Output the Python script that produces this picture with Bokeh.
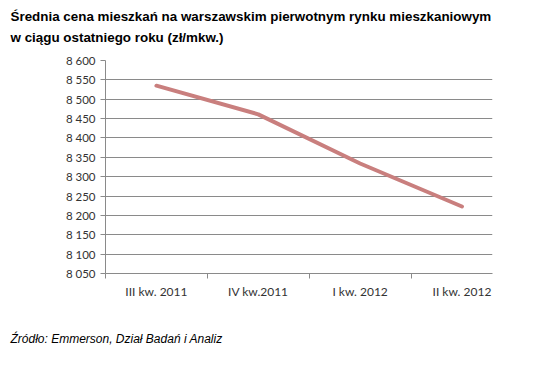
from bokeh.plotting import figure
from bokeh.models import FixedTicker, Title, ColumnDataSource
from bokeh.embed import file_html
from bokeh.resources import INLINE

categories = ["III kw. 2011", "IV kw.2011", "I kw. 2012", "II kw. 2012"]
prices = [8535, 8461, 8334, 8223]
y_ticks = [8050, 8100, 8150, 8200, 8250, 8300, 8350, 8400, 8450, 8500, 8550, 8600]
title_lines = ["Średnia cena mieszkań na warszawskim pierwotnym rynku mieszkaniowym",
               "w ciągu ostatniego roku (zł/mkw.)"]
footer = "Źródło: Emmerson, Dział Badań i Analiz"

xs = [i + 0.5 for i in range(len(categories))]
src = ColumnDataSource(dict(x=xs, y=prices))

p = figure(width=545, height=361, output_backend="svg", toolbar_location=None,
           x_range=(0, 3.8), y_range=(8050, 8600),
           min_border_left=105, min_border_right=53, min_border_top=60, min_border_bottom=88)
p.outline_line_color = None
p.background_fill_color = "white"
p.border_fill_color = "white"

p.line("x", "y", source=src, line_color="#c97f7e", line_width=4, line_cap="round")

grid_col = "#8a8a8a"
p.xgrid.visible = False
p.ygrid.grid_line_color = grid_col
p.ygrid.grid_line_width = 1

p.yaxis.ticker = FixedTicker(ticks=y_ticks)
p.yaxis.major_label_overrides = {t: f"{t // 1000} {t % 1000:03d}" for t in y_ticks}
p.yaxis.axis_line_color = grid_col
p.yaxis.major_tick_line_color = grid_col
p.yaxis.major_tick_out = 5
p.yaxis.major_tick_in = 0
p.yaxis.minor_tick_line_color = None
p.yaxis.major_label_standoff = 5

p.xaxis.ticker = FixedTicker(ticks=xs, minor_ticks=[0, 1, 2, 3])
p.xaxis.major_label_overrides = {x: c for x, c in zip(xs, categories)}
p.xaxis.axis_line_color = grid_col
p.xaxis.major_tick_line_color = None
p.xaxis.minor_tick_line_color = grid_col
p.xaxis.minor_tick_out = 5
p.xaxis.minor_tick_in = 0
p.xaxis.major_label_standoff = 4

for ax in (p.xaxis, p.yaxis):
    ax.major_label_text_font = "Lato"
    ax.major_label_text_color = "#333333"
p.xaxis.major_label_text_font_size = "12px"
p.yaxis.major_label_text_font_size = "11.5px"

# empty spacer between the plot frame and the title
p.add_layout(Title(text=" ", text_font_size="8px", standoff=5), "above")
p.add_layout(Title(text="\n".join(title_lines), align="left", offset=-95,
                   text_font="Liberation Sans", text_font_style="bold",
                   text_font_size="13.4px", text_color="black", text_line_height=1.4,
                   standoff=0), "above")
# empty spacer between the x axis and the source note
p.add_layout(Title(text=" ", text_font_size="8px", standoff=17), "below")
p.add_layout(Title(text=footer, align="left", offset=-95, text_font="Liberation Sans",
                   text_font_style="italic", text_font_size="12px", text_color="black",
                   standoff=0), "below")

open("out.html", "w").write(file_html(p, INLINE))
